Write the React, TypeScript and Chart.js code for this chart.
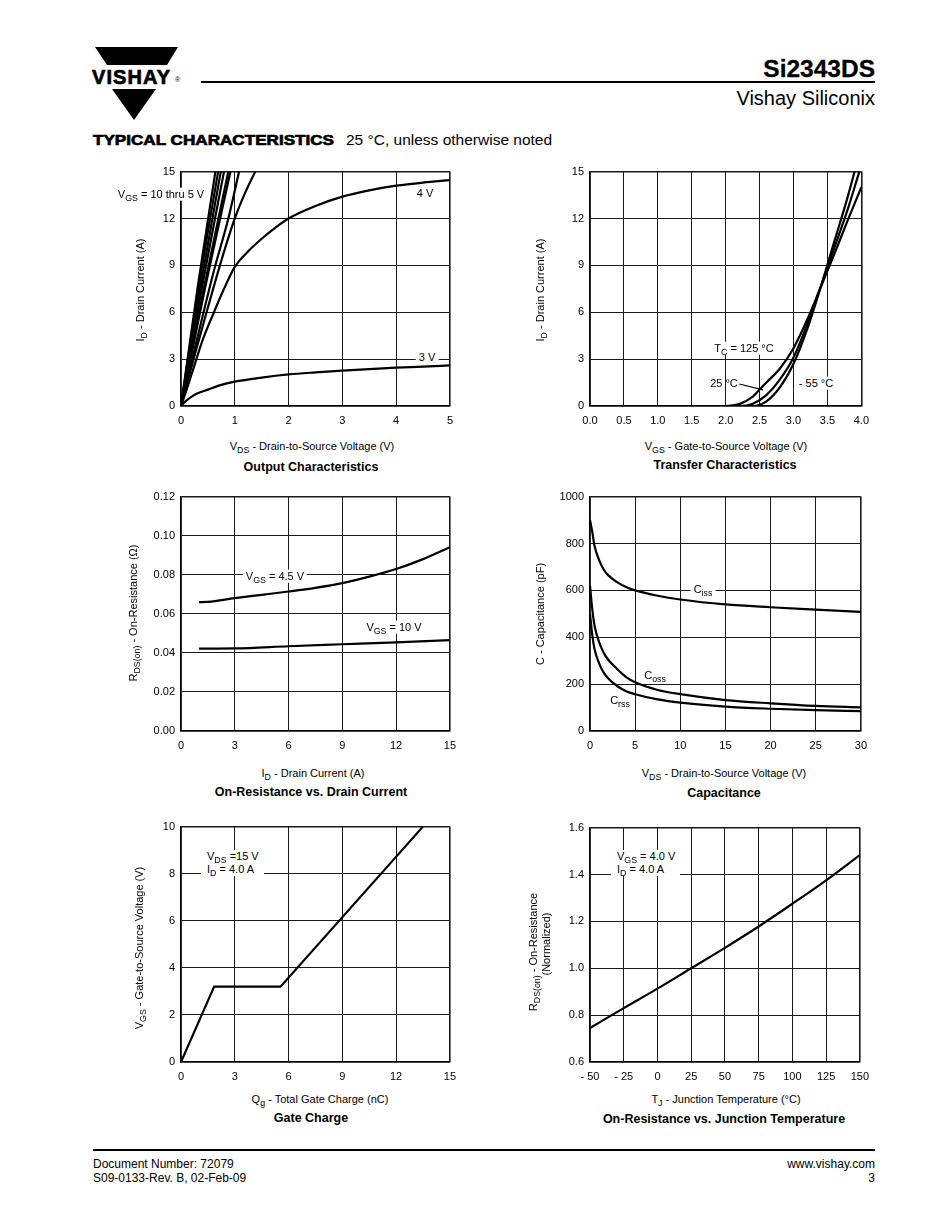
import React, { useEffect, useRef } from 'react';
import { Chart, registerables } from 'chart.js';
Chart.register(...registerables);

const FONT = '"Liberation Sans", Arial, Helvetica, sans-serif';

// ---------- Output characteristics ----------
const outXTicks = ['0', '1', '2', '3', '4', '5'];
const outYTicks = ['0', '3', '6', '9', '12', '15'];
const out3V_x = [0, 0.05, 0.1, 0.2, 0.3, 0.5, 0.75, 1, 1.5, 2, 2.5, 3, 3.5, 4, 4.5, 5];
const out3V_y = [0, 0.2, 0.35, 0.6, 0.8, 1.05, 1.35, 1.56, 1.82, 2.02, 2.15, 2.26, 2.36, 2.45, 2.52, 2.6];
const out4V_x = [0, 0.1, 0.25, 0.4, 0.6, 0.8, 1, 1.25, 1.5, 1.75, 2, 2.5, 3, 3.5, 4, 4.5, 5];
const out4V_y = [0, 1.0, 2.6, 4.2, 5.9, 7.5, 8.9, 9.9, 10.7, 11.4, 12.0, 12.8, 13.4, 13.8, 14.1, 14.3, 14.45];
const outA_x = [0, 0.25, 0.5, 0.75, 1.0, 1.2, 1.38];
const outA_y = [0, 3.2, 6.3, 9.3, 12.0, 13.7, 15];
const outB_x = [0, 0.3, 0.6, 0.88, 1.08];
const outB_y = [0, 4.3, 8.5, 12, 15];
const outC_x = [0, 0.45, 0.92];
const outC_y = [0, 7.6, 15];
const outD_x = [0, 0.43, 0.88];
const outD_y = [0, 7.6, 15];
const outE_x = [0, 0.39, 0.8];
const outE_y = [0, 7.6, 15];
const outF_x = [0, 0.36, 0.74];
const outF_y = [0, 7.6, 15];
const outG_x = [0, 0.33, 0.69];
const outG_y = [0, 7.6, 15];
const outH_x = [0, 0.31, 0.64];
const outH_y = [0, 7.6, 15];

// ---------- Transfer characteristics ----------
const trXTicks = ['0.0', '0.5', '1.0', '1.5', '2.0', '2.5', '3.0', '3.5', '4.0'];
const trYTicks = ['0', '3', '6', '9', '12', '15'];
const tr125_x = [0, 2.0, 2.2, 2.4, 2.5, 2.6, 2.8, 3.0, 3.2, 3.4, 3.6, 3.8, 4.0];
const tr125_y = [0, 0, 0.12, 0.6, 1.05, 1.5, 2.4, 3.7, 5.5, 7.6, 9.7, 11.9, 14.0];
const tr25_x = [0, 2.2, 2.4, 2.6, 2.8, 3.0, 3.2, 3.4, 3.6, 3.8, 3.97];
const tr25_y = [0, 0, 0.15, 0.7, 1.7, 3.1, 5.2, 7.6, 10.1, 12.6, 15];
const trM55_x = [0, 2.4, 2.6, 2.8, 3.0, 3.2, 3.4, 3.6, 3.8, 3.9];
const trM55_y = [0, 0, 0.3, 1.2, 2.7, 4.9, 7.6, 10.5, 13.4, 15];
const trLeader_x = [2.2, 2.55];
const trLeader_y = [1.41, 1.03];

// ---------- On-resistance vs drain current ----------
const ronXTicks = ['0', '3', '6', '9', '12', '15'];
const ronYTicks = ['0.00', '0.02', '0.04', '0.06', '0.08', '0.10', '0.12'];
const ron45_x = [1, 1.5, 3, 4.5, 6, 7.5, 9, 10.5, 12, 13.5, 15];
const ron45_y = [0.066, 0.0661, 0.068, 0.0697, 0.0714, 0.0733, 0.0757, 0.079, 0.0829, 0.088, 0.0941];
const ron10_x = [1, 3, 6, 9, 12, 15];
const ron10_y = [0.0422, 0.0423, 0.0434, 0.0444, 0.0454, 0.0465];

// ---------- Capacitance ----------
const capXTicks = ['0', '5', '10', '15', '20', '25', '30'];
const capYTicks = ['0', '200', '400', '600', '800', '1000'];
const capV = [0, 0.25, 0.5, 1, 1.5, 2, 3, 4, 5, 7.5, 10, 15, 20, 25, 30];
const ciss = [900, 850, 790, 730, 690, 665, 635, 614, 600, 577, 561, 540, 528, 518, 508];
const coss = [620, 520, 450, 380, 335, 305, 265, 230, 208, 175, 157, 132, 118, 107, 101];
const crss = [500, 410, 350, 290, 250, 225, 192, 170, 157, 135, 121, 104, 95, 89, 85];

// ---------- Gate charge ----------
const gcXTicks = ['0', '3', '6', '9', '12', '15'];
const gcYTicks = ['0', '2', '4', '6', '8', '10'];
const gcQ = [0, 1.85, 5.55, 13.5];
const gcV = [0, 3.2, 3.2, 10];

// ---------- On-resistance vs junction temperature ----------
const tjXTicks = ['- 50', '- 25', '0', '25', '50', '75', '100', '125', '150'];
const tjYTicks = ['0.6', '0.8', '1.0', '1.2', '1.4', '1.6'];
const tjT = [-50, -25, 0, 25, 50, 75, 100, 125, 150];
const tjR = [0.745, 0.83, 0.913, 1.0, 1.087, 1.178, 1.275, 1.375, 1.483];

const pts = (xs: number[], ys: number[]) => xs.map((x, i) => ({ x, y: ys[i] }));

const line = (xs: number[], ys: number[], opts: any = {}) => ({
  data: pts(xs, ys),
  showLine: true,
  borderColor: '#000',
  backgroundColor: '#000',
  borderWidth: 2.2,
  pointRadius: 0,
  cubicInterpolationMode: 'monotone',
  fill: false,
  ...opts,
});

function makeConfig(p: any) {
  const axis = (min: number, max: number, step: number, labels: string[], isX: boolean) => ({
    type: 'linear',
    min,
    max,
    ticks: {
      stepSize: step,
      autoSkip: false,
      maxRotation: 0,
      padding: isX ? 8 : 6,
      color: '#000',
      font: { family: FONT, size: 11 },
      callback: (_v: any, i: number) => labels[i],
    },
    grid: {
      color: '#1a1a1a',
      lineWidth: (c: any) => (c.index === 0 || c.index === labels.length - 1 ? 1.6 : 1),
      drawTicks: false,
    },
    border: { color: '#000', width: 1.6 },
    afterFit: (s: any) => {
      if (isX) s.height = 20;
      else s.width = 45;
    },
  });
  return {
    type: 'scatter',
    data: { datasets: p.datasets },
    options: {
      animation: false,
      responsive: false,
      maintainAspectRatio: false,
      layout: { padding: { left: 0, top: 10, right: 10, bottom: 0 } },
      plugins: { legend: { display: false }, tooltip: { enabled: false } },
      scales: {
        x: axis(p.xMin, p.xMax, p.xStep, p.xLabels, true),
        y: axis(p.yMin, p.yMax, p.yStep, p.yLabels, false),
      },
    },
  };
}

function Plot({ L, T, R, B, cfg }: any) {
  const ref = useRef<HTMLCanvasElement>(null);
  const box = useRef<HTMLDivElement>(null);
  const w0 = R - L + 55;
  const h0 = B - T + 30;
  useEffect(() => {
    const canvas = ref.current as HTMLCanvasElement;
    const div = box.current as HTMLDivElement;
    const setSize = (w: number, h: number) => {
      canvas.width = w;
      canvas.height = h;
      canvas.style.width = w + 'px';
      canvas.style.height = h + 'px';
      div.style.width = w + 'px';
      div.style.height = h + 'px';
    };
    setSize(w0, h0);
    let chart = new Chart(canvas as any, makeConfig(cfg) as any);
    const a = chart.chartArea;
    const dw = Math.round(R - L - (a.right - a.left));
    const dh = Math.round(B - T - (a.bottom - a.top));
    if (dw !== 0 || dh !== 0) {
      chart.destroy();
      setSize(w0 + dw, h0 + dh);
      chart = new Chart(canvas as any, makeConfig(cfg) as any);
    }
    const a2 = chart.chartArea;
    div.style.left = L - a2.left + 'px';
    div.style.top = T - a2.top + 'px';
    return () => chart.destroy();
  }, []);
  return (
    <div ref={box} style={{ position: 'absolute', left: L - 45, top: T - 10, width: w0, height: h0 }}>
      <canvas ref={ref} width={w0} height={h0} style={{ width: w0, height: h0, display: 'block' }} />
    </div>
  );
}

const Sub = ({ children }: any) => (
  <span style={{ fontSize: '0.8em', position: 'relative', top: '0.3em' }}>{children}</span>
);

function Txt({ x, y, children, size = 11, bold = false, bg = false, align = 'center', rotate = false, style = {} }: any) {
  const tx = align === 'center' ? '-50%' : align === 'right' ? '-100%' : '0';
  return (
    <div
      style={{
        position: 'absolute',
        left: x,
        top: y,
        transform: `translate(${tx}, -50%)${rotate ? ' rotate(-90deg)' : ''}`,
        transformOrigin: rotate ? '50% 50%' : undefined,
        whiteSpace: 'nowrap',
        fontSize: size,
        lineHeight: 1.15,
        fontWeight: bold ? 'bold' : 'normal',
        background: bg ? '#fff' : 'transparent',
        padding: bg ? '0 3px' : 0,
        color: '#000',
        ...style,
      }}
    >
      {children}
    </div>
  );
}

const CAP = 12.5;

export default function App() {
  const c1 = {
    xMin: 0, xMax: 5, xStep: 1, xLabels: outXTicks,
    yMin: 0, yMax: 15, yStep: 3, yLabels: outYTicks,
    datasets: [
      line(out3V_x, out3V_y), line(out4V_x, out4V_y),
      line(outA_x, outA_y), line(outB_x, outB_y), line(outC_x, outC_y), line(outD_x, outD_y),
      line(outE_x, outE_y), line(outF_x, outF_y), line(outG_x, outG_y), line(outH_x, outH_y),
    ],
  };
  const c2 = {
    xMin: 0, xMax: 4, xStep: 0.5, xLabels: trXTicks,
    yMin: 0, yMax: 15, yStep: 3, yLabels: trYTicks,
    datasets: [
      line(tr125_x, tr125_y), line(tr25_x, tr25_y), line(trM55_x, trM55_y),
      line(trLeader_x, trLeader_y, { borderWidth: 1.2, cubicInterpolationMode: 'default' }),
    ],
  };
  const c3 = {
    xMin: 0, xMax: 15, xStep: 3, xLabels: ronXTicks,
    yMin: 0, yMax: 0.12, yStep: 0.02, yLabels: ronYTicks,
    datasets: [line(ron45_x, ron45_y), line(ron10_x, ron10_y)],
  };
  const c4 = {
    xMin: 0, xMax: 30, xStep: 5, xLabels: capXTicks,
    yMin: 0, yMax: 1000, yStep: 200, yLabels: capYTicks,
    datasets: [line(capV, ciss), line(capV, coss), line(capV, crss)],
  };
  const c5 = {
    xMin: 0, xMax: 15, xStep: 3, xLabels: gcXTicks,
    yMin: 0, yMax: 10, yStep: 2, yLabels: gcYTicks,
    datasets: [line(gcQ, gcV, { cubicInterpolationMode: 'default', tension: 0 })],
  };
  const c6 = {
    xMin: -50, xMax: 150, xStep: 25, xLabels: tjXTicks,
    yMin: 0.6, yMax: 1.6, yStep: 0.2, yLabels: tjYTicks,
    datasets: [line(tjT, tjR)],
  };

  return (
    <div style={{ position: 'absolute', left: 0, top: 0, width: 950, height: 1230, background: '#fff', fontFamily: FONT, color: '#000', overflow: 'hidden' }}>
      {/* Logo */}
      <svg width={950} height={140} style={{ position: 'absolute', left: 0, top: 0 }}>
        <polygon points="95,47 178,47 167,65 107,65" fill="#000" />
        <polygon points="112,89 156,89 134,120" fill="#000" />
      </svg>
      <div style={{ position: 'absolute', left: 92, top: 66, fontSize: 20, fontWeight: 900, letterSpacing: 1.1, lineHeight: '22px', WebkitTextStroke: '0.7px #000' }}>VISHAY</div>
      <div style={{ position: 'absolute', left: 175, top: 76, fontSize: 7, lineHeight: '8px' }}>®</div>
      <div style={{ position: 'absolute', left: 201, top: 81, width: 674, height: 1.5, background: '#000' }} />
      <div style={{ position: 'absolute', right: 75, top: 55, fontSize: 24.5, fontWeight: 'bold', lineHeight: '28px', WebkitTextStroke: '0.3px #000' }}>Si2343DS</div>
      <div style={{ position: 'absolute', right: 75, top: 87, fontSize: 20, lineHeight: '23px' }}>Vishay Siliconix</div>

      <div style={{ position: 'absolute', left: 93, top: 131, whiteSpace: 'nowrap', lineHeight: '18px', fontSize: 15, fontWeight: 900, WebkitTextStroke: '0.7px #000', transform: 'scaleX(1.14)', transformOrigin: '0 50%' }}>
        TYPICAL CHARACTERISTICS
      </div>
      <div style={{ position: 'absolute', left: 346, top: 131, whiteSpace: 'nowrap', lineHeight: '18px', fontSize: 15.5 }}>
        25 °C, unless otherwise noted
      </div>

      {/* Charts */}
      <Plot L={181} T={172} R={450} B={406} cfg={c1} />
      <Plot L={590} T={172} R={861} B={406} cfg={c2} />
      <Plot L={181} T={497} R={450} B={731} cfg={c3} />
      <Plot L={590} T={497} R={861} B={731} cfg={c4} />
      <Plot L={181} T={827} R={450} B={1062} cfg={c5} />
      <Plot L={590} T={828} R={860} B={1062} cfg={c6} />

      {/* Chart 1 texts */}
      <Txt x={161} y={194} bg>V<Sub>GS</Sub> = 10 thru 5 V</Txt>
      <Txt x={425} y={193}>4 V</Txt>
      <Txt x={427} y={357} bg>3 V</Txt>
      <Txt x={140} y={290} rotate>I<Sub>D</Sub> - Drain Current (A)</Txt>
      <Txt x={312} y={446}>V<Sub>DS</Sub> - Drain-to-Source Voltage (V)</Txt>
      <Txt x={311} y={467} size={CAP} bold>Output Characteristics</Txt>

      {/* Chart 2 texts */}
      <Txt x={744} y={348} bg>T<Sub>C</Sub> = 125 °C</Txt>
      <Txt x={724} y={383}>25 °C</Txt>
      <Txt x={816} y={383} bg>- 55 °C</Txt>
      <Txt x={540} y={290} rotate>I<Sub>D</Sub> - Drain Current (A)</Txt>
      <Txt x={726} y={446}>V<Sub>GS</Sub> - Gate-to-Source Voltage (V)</Txt>
      <Txt x={725} y={465} size={CAP} bold>Transfer Characteristics</Txt>

      {/* Chart 3 texts */}
      <Txt x={275} y={576} bg>V<Sub>GS</Sub> = 4.5 V</Txt>
      <Txt x={394} y={627} bg>V<Sub>GS</Sub> = 10 V</Txt>
      <Txt x={133} y={613} rotate>R<Sub>DS(on)</Sub> - On-Resistance (Ω)</Txt>
      <Txt x={313} y={773}>I<Sub>D</Sub> - Drain Current (A)</Txt>
      <Txt x={311} y={792} size={CAP} bold>On-Resistance vs. Drain Current</Txt>

      {/* Chart 4 texts */}
      <Txt x={703} y={589} bg>C<Sub>iss</Sub></Txt>
      <Txt x={655} y={675}>C<Sub>oss</Sub></Txt>
      <Txt x={620} y={700}>C<Sub>rss</Sub></Txt>
      <Txt x={540} y={614} rotate>C - Capacitance (pF)</Txt>
      <Txt x={724} y={773}>V<Sub>DS</Sub> - Drain-to-Source Voltage (V)</Txt>
      <Txt x={724} y={793} size={CAP} bold>Capacitance</Txt>

      {/* Chart 5 texts */}
      <div style={{ position: 'absolute', left: 201, top: 850, background: '#fff', padding: '0 5px 0 6px', fontSize: 11, lineHeight: '12px', whiteSpace: 'nowrap' }}>
        <div>V<Sub>DS</Sub> =15 V</div>
        <div>I<Sub>D</Sub> = 4.0 A</div>
      </div>
      <Txt x={139} y={948} rotate>V<Sub>GS</Sub> - Gate-to-Source Voltage (V)</Txt>
      <Txt x={320} y={1099}>Q<Sub>g</Sub> - Total Gate Charge (nC)</Txt>
      <Txt x={311} y={1118} size={CAP} bold>Gate Charge</Txt>

      {/* Chart 6 texts */}
      <div style={{ position: 'absolute', left: 611, top: 850, background: '#fff', padding: '0 5px 0 6px', fontSize: 11, lineHeight: '12px', whiteSpace: 'nowrap' }}>
        <div>V<Sub>GS</Sub> = 4.0 V</div>
        <div>I<Sub>D</Sub> = 4.0 A</div>
      </div>
      <Txt x={533} y={952} rotate>R<Sub>DS(on)</Sub> - On-Resistance</Txt>
      <Txt x={546} y={944} rotate>(Normalized)</Txt>
      <Txt x={726} y={1099}>T<Sub>J</Sub> - Junction Temperature (°C)</Txt>
      <Txt x={724} y={1119} size={CAP} bold>On-Resistance vs. Junction Temperature</Txt>

      {/* Footer */}
      <div style={{ position: 'absolute', left: 93, top: 1149, width: 782, height: 1.5, background: '#000' }} />
      <div style={{ position: 'absolute', left: 93, top: 1157, fontSize: 12, lineHeight: '14px' }}>
        <div>Document Number: 72079</div>
        <div>S09-0133-Rev. B, 02-Feb-09</div>
      </div>
      <div style={{ position: 'absolute', right: 75, top: 1157, fontSize: 12, lineHeight: '14px', textAlign: 'right' }}>
        <div>www.vishay.com</div>
        <div>3</div>
      </div>
    </div>
  );
}
